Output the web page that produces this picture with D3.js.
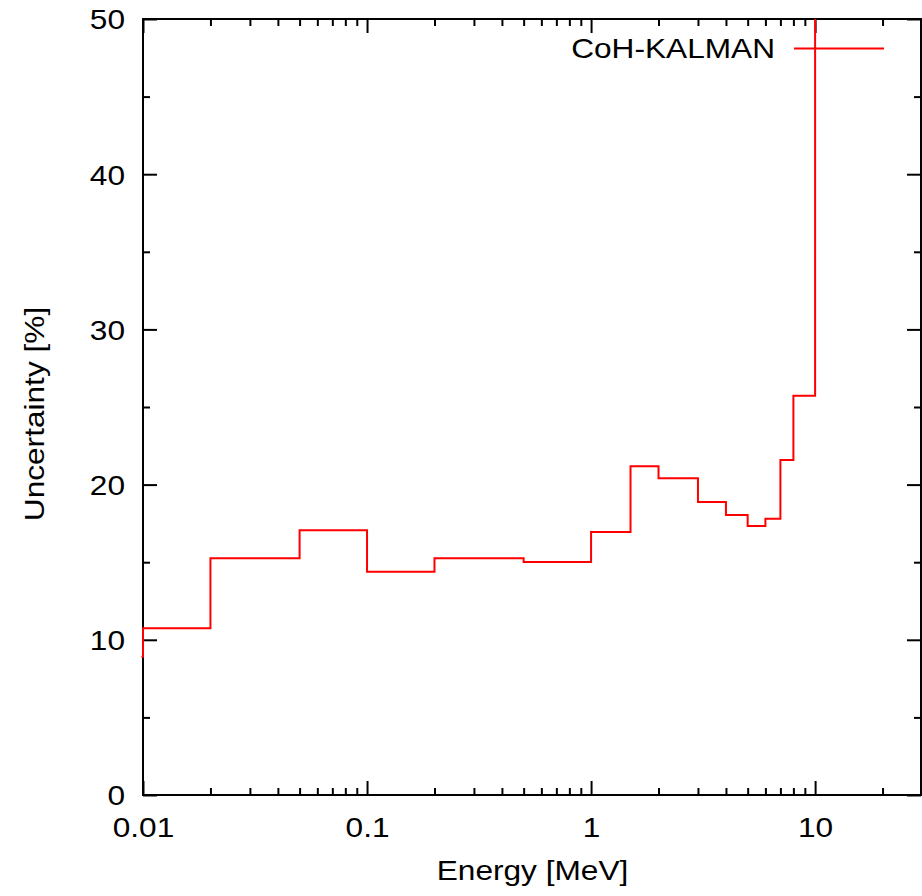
<!DOCTYPE html>
<html>
<head>
<meta charset="utf-8">
<script src="https://cdn.jsdelivr.net/npm/d3@7"></script>
<style>
  body { margin: 0; background: #fff; }
  text { font-family: "Liberation Sans", Arial, sans-serif; fill: #000; }
</style>
</head>
<body>
<div id="chart"></div>
<script>
// bin lower edges [MeV] and uncertainty [%] (steps)
const energies = [0.005, 0.01, 0.02, 0.05, 0.1, 0.2, 0.5, 1, 1.5, 2, 3, 4, 5, 6, 7, 8, 10, 20];
const uncertainty = [8.9, 10.74, 15.25, 17.06, 14.39, 15.25, 15.01, 16.94, 21.18, 20.41, 18.88, 18.04, 17.33, 17.80, 21.59, 25.73, 60, 60];
const xTickLabels = [0.01, 0.1, 1, 10];
const yTickLabels = [0, 10, 20, 30, 40, 50];
const yMinorTicks = [5, 15, 25, 35, 45];
const seriesName = "CoH-KALMAN";

const width = 922, height = 896;
const margin = { top: 19, right: 0, bottom: 101, left: 143 };
const fontSize = 27.5, stretch = 1.15;

const svg = d3.select("#chart").append("svg")
    .attr("width", width)
    .attr("height", height);

const x = d3.scaleLog()
    .domain([0.01, 30])
    .range([margin.left, width - margin.right]);
const y = d3.scaleLinear()
    .domain([0, 50])
    .range([height - margin.bottom, margin.top]);

// minor ticks on the log axis: 2..9 per decade
const xMinorTicks = [];
[0.01, 0.1, 1, 10].forEach(d => {
    for (let k = 2; k <= 9; k++) {
        const v = d * k;
        if (v < 30) xMinorTicks.push(v);
    }
});

const styleAxis = g => {
    g.select(".domain").remove();
    g.selectAll("line").attr("stroke", "#000").attr("stroke-width", 2);
};

// bottom
svg.append("g")
    .attr("transform", `translate(0,${y(0)})`)
    .call(d3.axisBottom(x).tickValues(xMinorTicks).tickSize(-7).tickFormat(""))
    .call(styleAxis);
svg.append("g")
    .attr("transform", `translate(0,${y(0)})`)
    .call(d3.axisBottom(x).tickValues(xTickLabels).tickSize(-14).tickFormat(d3.format("~g")))
    .call(styleAxis)
    .call(g => g.selectAll("text")
        .attr("x", null).attr("y", null).attr("dy", null)
        .attr("font-size", fontSize)
        .attr("text-anchor", "middle")
        .attr("transform", `translate(0,42) scale(${stretch},1)`));
// top (mirror)
svg.append("g")
    .attr("transform", `translate(0,${y(50)})`)
    .call(d3.axisTop(x).tickValues(xMinorTicks).tickSize(-7).tickFormat(""))
    .call(styleAxis);
svg.append("g")
    .attr("transform", `translate(0,${y(50)})`)
    .call(d3.axisTop(x).tickValues(xTickLabels).tickSize(-14).tickFormat(""))
    .call(styleAxis);
// left
svg.append("g")
    .attr("transform", `translate(${x(0.01)},0)`)
    .call(d3.axisLeft(y).tickValues(yMinorTicks).tickSize(-7).tickFormat(""))
    .call(styleAxis);
svg.append("g")
    .attr("transform", `translate(${x(0.01)},0)`)
    .call(d3.axisLeft(y).tickValues(yTickLabels).tickSize(-14).tickFormat(d3.format("d")))
    .call(styleAxis)
    .call(g => g.selectAll("text")
        .attr("x", null).attr("y", null).attr("dy", null)
        .attr("font-size", fontSize)
        .attr("text-anchor", "end")
        .attr("transform", `translate(-18,9.8) scale(${stretch},1)`));
// right (mirror)
svg.append("g")
    .attr("transform", `translate(${x(30) - 1},0)`)
    .call(d3.axisRight(y).tickValues(yMinorTicks).tickSize(-7).tickFormat(""))
    .call(styleAxis);
svg.append("g")
    .attr("transform", `translate(${x(30) - 1},0)`)
    .call(d3.axisRight(y).tickValues(yTickLabels).tickSize(-14).tickFormat(""))
    .call(styleAxis);

// border
svg.append("rect")
    .attr("x", x(0.01))
    .attr("y", y(50))
    .attr("width", x(30) - 1 - x(0.01))
    .attr("height", y(0) - y(50))
    .attr("fill", "none")
    .attr("stroke", "#000")
    .attr("stroke-width", 2);

// step line, clipped to the plot area (plus the axis line width)
svg.append("clipPath").attr("id", "plotClip")
    .append("rect")
    .attr("x", x(0.01) - 1.5)
    .attr("y", y(50))
    .attr("width", x(30) - x(0.01) + 1.5)
    .attr("height", y(0) - y(50));

const data = energies.map((e, i) => ({ e, u: uncertainty[i] }));
const line = d3.line()
    .x(d => x(d.e))
    .y(d => y(d.u))
    .curve(d3.curveStepAfter);

svg.append("path")
    .datum(data)
    .attr("clip-path", "url(#plotClip)")
    .attr("fill", "none")
    .attr("stroke", "#ff0000")
    .attr("stroke-width", 2)
    .attr("d", line);

// legend
svg.append("text")
    .attr("font-size", fontSize)
    .attr("text-anchor", "end")
    .attr("transform", `translate(775,57.5) scale(${stretch},1)`)
    .text(seriesName);
svg.append("line")
    .attr("x1", 794).attr("x2", 884)
    .attr("y1", 48.5).attr("y2", 48.5)
    .attr("stroke", "#ff0000")
    .attr("stroke-width", 2);

// axis titles
svg.append("text")
    .attr("font-size", fontSize)
    .attr("text-anchor", "middle")
    .attr("transform", `translate(${(x(0.01) + x(30)) / 2},880) scale(${stretch},1)`)
    .text("Energy [MeV]");
svg.append("text")
    .attr("font-size", fontSize)
    .attr("text-anchor", "middle")
    .attr("transform", `translate(43.5,${(y(0) + y(50)) / 2 + 7}) rotate(-90) scale(${stretch},1)`)
    .text("Uncertainty [%]");
</script>
</body>
</html>
